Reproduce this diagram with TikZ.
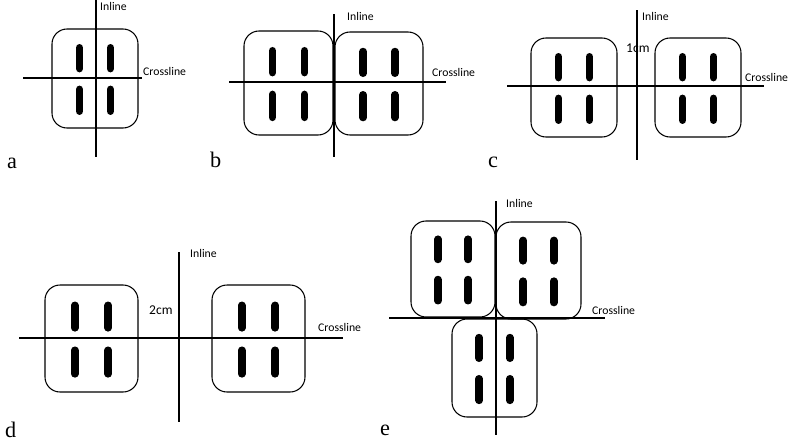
\documentclass[tikz,border=0pt]{standalone}
\usepackage{fontspec}
\setmainfont{Liberation Serif}
\newfontfamily\tagfont{Carlito}
\tikzset{
  tray/.style={line width=0.9pt, rounded corners=0.45cm},
  seed/.style={line width=6.5pt, line cap=round},
  axis/.style={line width=0.9pt},
  tag/.style={font=\tagfont\fontsize{10}{11}\selectfont, anchor=west, inner sep=0pt},
  gap/.style={tag, font=\tagfont\fontsize{11.5}{12}\selectfont},
  panel/.style={font=\fontsize{19}{19}\selectfont, anchor=base west, inner sep=0pt}
}
%% one tray with its four seeds: x1, y1, x2, y2
\newcommand{\tray}[4]{%
  \draw[tray] (#1,#2) rectangle (#3,#4);
  \foreach \cx in {0.32,0.68}
    \foreach \ya/\yb in {0.19/0.40,0.61/0.83}
      \draw[seed] ({#1+\cx*(#3-#1)},{#2+\ya*(#4-#2)}) -- ({#1+\cx*(#3-#1)},{#2+\yb*(#4-#2)});
}
\begin{document}
\begin{tikzpicture}[x=0.03cm,y=-0.03cm]
    \useasboundingbox (0,0) rectangle (791,447);
    %% a: one tray
    \tray{52}{29}{138}{128}
    \draw[axis] (23,78) -- (142,78);
    \draw[axis] (96,0) -- (96,157);
    \node[tag] (inlineA) at (100,6) {Inline};
    \node[tag] (crossA) at (143,71) {Crossline};
    \node[panel] (a) at (7,168) {a};
    %% b: two trays side by side
    \tray{244}{31}{333}{135}
    \tray{335}{32}{423}{135}
    \draw[axis] (229,82) -- (446,82);
    \draw[axis] (334,14) -- (334,157);
    \node[tag] (inlineB) at (347,16) {Inline};
    \node[tag] (crossB) at (432,72) {Crossline};
    \node[panel] (b) at (210,167) {b};
    %% c: 1cm apart
    \tray{531}{38}{617}{137}
    \tray{655}{38}{741}{137}
    \draw[axis] (507,86) -- (764,86);
    \draw[axis] (637,10) -- (637,160);
    \node[tag] (inlineC) at (642,16) {Inline};
    \node[gap] (gapC) at (626,48) {1cm};
    \node[tag] (crossC) at (745,77) {Crossline};
    \node[panel] (c) at (488,167) {c};
    %% d: 2cm apart
    \tray{45}{285}{138}{392}
    \tray{212}{285}{305}{392}
    \draw[axis] (19,338) -- (343,338);
    \draw[axis] (179,252) -- (179,422);
    \node[tag] (inlineD) at (190,253) {Inline};
    \node[gap] (gapD) at (149,310) {2cm};
    \node[tag] (crossD) at (318,327) {Crossline};
    \node[panel] (d) at (5,437) {d};
    %% e: two trays above, one below
    \tray{411}{221}{495}{317}
    \tray{496}{222}{581}{319}
    \tray{452}{319}{537}{417}
    \draw[axis] (389,318) -- (605,318);
    \draw[axis] (496,201) -- (496,435);
    \node[tag] (inlineE) at (506,203) {Inline};
    \node[tag] (crossE) at (592,310) {Crossline};
    \node[panel] (e) at (380,435) {e};
\end{tikzpicture}
\end{document}
